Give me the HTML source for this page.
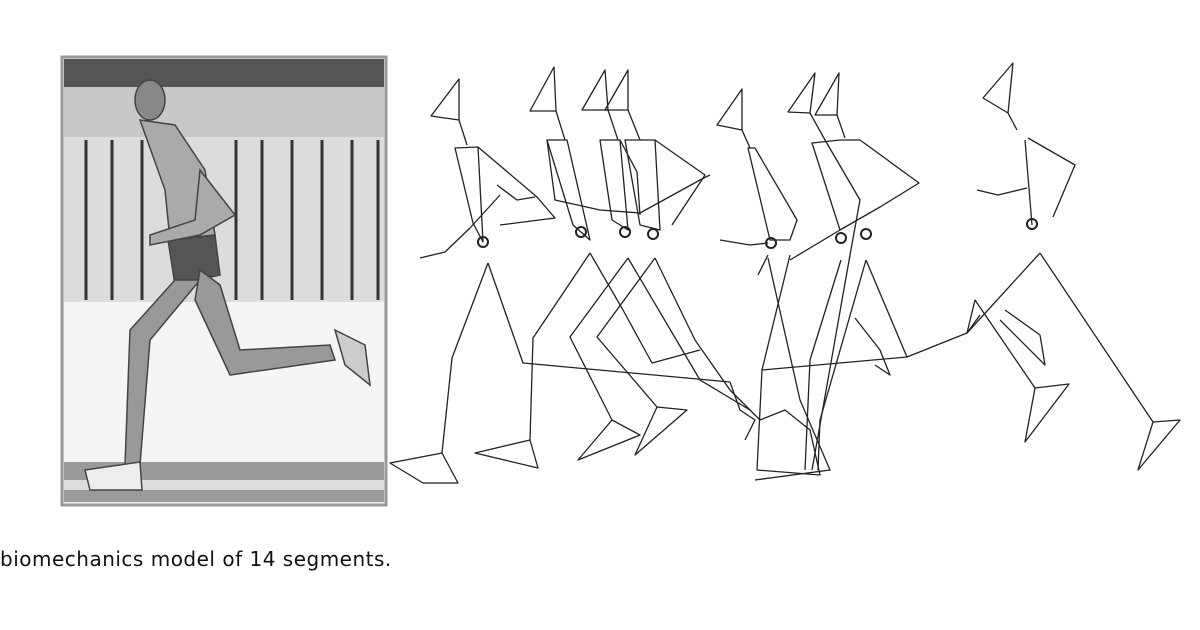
<!DOCTYPE html>
<html><head><style>
body{margin:0;width:1200px;height:630px;background:#fff;overflow:hidden;position:relative;font-family:"DejaVu Sans","Liberation Sans",sans-serif}
.cap{position:absolute;left:0;top:547px;font-size:20px;letter-spacing:0.5px;color:#111}
</style></head><body>
<svg width="1200" height="630" style="position:absolute;left:0;top:0">
<!-- photo -->
<rect x="62" y="57" width="324" height="448" fill="#eee" stroke="#999" stroke-width="3"/>
<rect x="64" y="59" width="320" height="28" fill="#555"/>
<rect x="64" y="87" width="320" height="50" fill="#c8c8c8"/>
<rect x="64" y="137" width="320" height="165" fill="#dcdcdc"/>
<g stroke="#333" stroke-width="3">
<line x1="86" y1="140" x2="86" y2="300"/><line x1="112" y1="140" x2="112" y2="300"/><line x1="142" y1="140" x2="142" y2="300"/>
<line x1="236" y1="140" x2="236" y2="300"/><line x1="262" y1="140" x2="262" y2="300"/><line x1="292" y1="140" x2="292" y2="300"/>
<line x1="322" y1="140" x2="322" y2="300"/><line x1="352" y1="140" x2="352" y2="300"/><line x1="378" y1="140" x2="378" y2="300"/>
<line x1="306" y1="320" x2="306" y2="470"/><line x1="324" y1="320" x2="324" y2="470"/>
</g>
<rect x="64" y="302" width="320" height="160" fill="#f5f5f5"/>
<rect x="64" y="462" width="320" height="40" fill="#9a9a9a"/>
<rect x="64" y="480" width="320" height="10" fill="#ddd"/>
<!-- runner -->
<g fill="#888" stroke="#444" stroke-width="1.5">
<ellipse cx="150" cy="100" rx="15" ry="20"/>
<path d="M140 120 L175 125 L205 170 L215 235 L190 245 L170 240 L165 190 Z" fill="#aaa"/>
<path d="M168 240 L215 235 L220 275 L175 285 Z" fill="#555"/>
<path d="M175 280 L200 280 L150 340 L140 465 L125 465 L130 330 Z" fill="#999"/>
<path d="M200 270 L220 285 L240 350 L330 345 L335 360 L230 375 L195 300 Z" fill="#999"/>
<path d="M335 330 L365 345 L370 385 L345 365 Z" fill="#ccc"/>
<path d="M85 470 L140 462 L142 490 L90 490 Z" fill="#eee"/>
<path d="M200 170 L235 215 L200 235 L150 245 L150 235 L195 220 Z" fill="#aaa"/>
</g>
<!-- stick figures -->
<g fill="none" stroke="#222" stroke-width="1.3" stroke-linejoin="round">
<!-- fig1 -->
<polygon points="459,79 431,116 459,120"/>
<polyline points="459,120 467,145"/>
<polygon points="455,148 478,147 483,242 473,223"/>
<polyline points="478,147 537,197 555,218 500,225"/>
<polyline points="420,258 445,252 470,228 500,195"/>
<polyline points="497,185 517,200 535,197"/>
<polyline points="488,263 452,358 442,453 390,463 423,483 458,483 442,453"/>
<polyline points="488,263 523,363 730,382"/>
<!-- fig2 -->
<polygon points="554,67 530,111 556,111"/>
<polyline points="556,111 565,140"/>
<polygon points="547,140 567,140 590,240 573,225"/>
<polyline points="547,140 555,200 600,210 640,213 700,180 710,175"/>
<polyline points="590,253 533,338 530,440 475,453 538,468 530,440"/>
<polyline points="590,253 623,310 652,363 700,350"/>
<!-- fig3 -->
<polygon points="605,70 582,110 608,110"/>
<polyline points="608,110 618,140"/>
<polygon points="600,140 620,140 628,230 612,220"/>
<polyline points="620,140 637,172 640,215"/>
<polyline points="628,258 570,337 612,420 578,460 640,435 612,420"/>
<polyline points="628,258 700,380 750,410"/>
<!-- fig4 -->
<polygon points="628,70 605,110 628,110"/>
<polyline points="628,110 640,140"/>
<polygon points="625,140 655,140 660,230 640,225"/>
<polyline points="655,140 705,175 672,225"/>
<polyline points="655,258 597,337 657,407 687,410 635,455 657,407"/>
<polyline points="655,258 695,340 730,390 760,420"/>
<!-- fig5 -->
<polygon points="742,89 717,125 742,130"/>
<polyline points="742,130 750,148"/>
<polygon points="748,148 755,148 797,220 790,240 770,240"/>
<polyline points="720,240 750,245 768,243"/>
<polyline points="758,275 768,255"/>
<polyline points="790,255 762,370 757,470 820,475 810,430 785,410 760,420"/>
<polyline points="768,258 800,400 830,470 755,480"/>
<polyline points="762,370 907,357 967,333"/>
<polyline points="730,382 740,410 755,420 745,440"/>
<!-- fig6/7 -->
<polygon points="815,73 788,112 810,113"/>
<polygon points="839,73 815,115 837,115"/>
<polyline points="810,113 825,140 860,200 850,255 812,470"/>
<polyline points="837,115 845,138"/>
<polygon points="812,143 840,140 860,140 919,183 880,207 840,230"/>
<polyline points="841,260 810,360 805,470"/>
<polyline points="866,260 820,420 818,470"/>
<polyline points="866,260 907,357"/>
<polyline points="855,318 880,350 890,375 875,365"/>
<polyline points="840,230 790,260"/>
<!-- fig8 -->
<polygon points="1013,63 983,98 1008,113"/>
<polyline points="1008,113 1017,130"/>
<polyline points="1025,140 1032,225"/>
<polyline points="1028,138 1075,165 1053,217"/>
<polyline points="977,190 998,195 1027,188"/>
<polyline points="1040,253 1153,422 1180,420 1138,470 1153,422"/>
<polyline points="1040,253 967,333 975,300 1035,388 1069,384 1025,442 1035,388"/>
<polyline points="1005,310 1040,335 1045,365 1000,320"/>
<polyline points="967,333 980,315"/>
</g>
<g fill="none" stroke="#222" stroke-width="2">
<circle cx="483" cy="242" r="5"/><circle cx="581" cy="232" r="5"/><circle cx="625" cy="232" r="5"/><circle cx="653" cy="234" r="5"/>
<circle cx="771" cy="243" r="5"/><circle cx="841" cy="238" r="5"/><circle cx="866" cy="234" r="5"/><circle cx="1032" cy="224" r="5"/>
</g>
</svg>
<div class="cap">biomechanics model of 14 segments.</div>
</body></html>
